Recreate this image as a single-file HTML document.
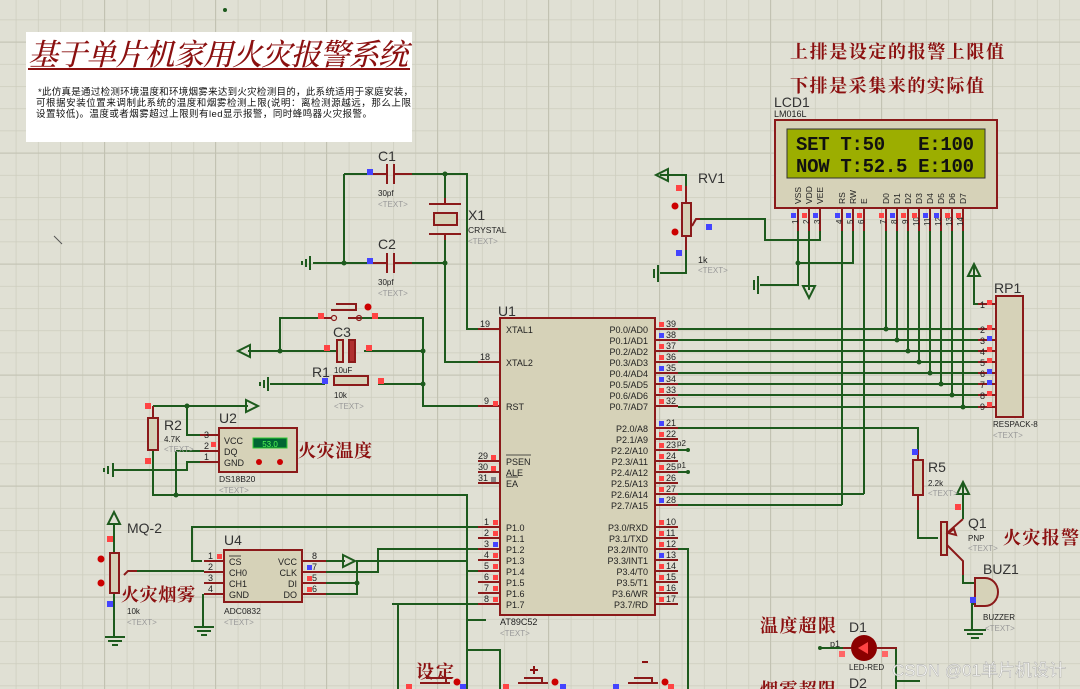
<!DOCTYPE html>
<html><head><meta charset="utf-8"><style>
html,body{margin:0;padding:0;background:#e0e0d4;}
svg{display:block;font-family:"Liberation Sans","Noto Sans CJK SC",sans-serif;}
.w{stroke:#1d5a1d;stroke-width:2;fill:none;}
.p{stroke:#8b1a1a;stroke-width:2;fill:none;}
.b{stroke:#8b1a1a;stroke-width:2;fill:#d6d2b8;}
.t{font-size:11px;fill:#222;}
.s{font-size:9px;fill:#222;}
.g{font-size:8px;fill:#999;}
.L{font-size:14px;fill:#333;}
.r{fill:#8b1010;font-family:"Liberation Serif","Noto Serif CJK SC",serif;font-size:18px;font-weight:bold;}
.n{fill:#1d5a1d;}
</style></head><body>
<svg width="1080" height="689" viewBox="0 0 1080 689" xmlns="http://www.w3.org/2000/svg">
<defs>
<pattern id="gm" x="15.7" y="19.5" width="22.2" height="22.2" patternUnits="userSpaceOnUse">
<path d="M0 0H22.2M0 0V22.2" stroke="#cdcdbe" stroke-width="1.5" fill="none"/></pattern>
<pattern id="gM" x="104" y="41.6" width="111" height="111" patternUnits="userSpaceOnUse">
<path d="M0 0H111M0 0V111" stroke="#c2c2b2" stroke-width="2" fill="none"/></pattern>
</defs>
<rect width="1080" height="689" fill="#e0e0d4"/>
<rect width="1080" height="689" fill="url(#gm)"/>
<rect width="1080" height="689" fill="url(#gM)"/>
<circle cx="225" cy="10" r="2" class="n"/>
<line x1="54" y1="236" x2="62" y2="244" stroke="#555" stroke-width="1"/>

<!-- title box -->
<rect x="26" y="32" width="386" height="110" fill="#fff"/>
<text x="28" y="65" style="font-family:'Liberation Serif','Noto Serif CJK SC',serif;font-size:30px;font-style:italic;fill:#8b1010;font-weight:500" textLength="380">基于单片机家用火灾报警系统</text>
<line x1="28" y1="69" x2="410" y2="69" stroke="#8b1010" stroke-width="2"/>
<text x="38" y="95" style="font-size:9.5px;fill:#111" textLength="375">*此仿真是通过检测环境温度和环境烟雾来达到火灾检测目的，此系统适用于家庭安装，</text>
<text x="36" y="106" style="font-size:9.5px;fill:#111" textLength="375">可根据安装位置来调制此系统的温度和烟雾检测上限(说明：离检测源越远，那么上限</text>
<text x="36" y="117" style="font-size:9.5px;fill:#111" textLength="336">设置较低)。温度或者烟雾超过上限则有led显示报警，同时蜂鸣器火灾报警。</text>

<text x="790" y="58" class="r" textLength="214">上排是设定的报警上限值</text>
<text x="790" y="92" class="r" textLength="194">下排是采集来的实际值</text>

<!-- LCD -->
<text x="774" y="107" class="L">LCD1</text>
<text x="774" y="117" class="s">LM016L</text>
<text x="774" y="127" class="g">&lt;TEXT&gt;</text>
<rect x="775" y="120" width="222" height="88" class="b"/>
<rect x="787" y="129" width="198" height="49" fill="#9cae00" stroke="#333" stroke-width="1"/>
<text x="796" y="150" style="font-family:'Liberation Mono',monospace;font-size:19px;fill:#111;font-weight:bold" textLength="178" xml:space="preserve">SET T:50   E:100</text>
<text x="796" y="172" style="font-family:'Liberation Mono',monospace;font-size:19px;fill:#111;font-weight:bold" textLength="178" xml:space="preserve">NOW T:52.5 E:100</text>
<g class="s" style="font-size:8.5px">
<text transform="translate(801,204) rotate(-90)">VSS</text><text transform="translate(812,204) rotate(-90)">VDD</text><text transform="translate(823,204) rotate(-90)">VEE</text>
<text transform="translate(845,204) rotate(-90)">RS</text><text transform="translate(856,204) rotate(-90)">RW</text><text transform="translate(867,204) rotate(-90)">E</text>
<text transform="translate(889,204) rotate(-90)">D0</text><text transform="translate(900,204) rotate(-90)">D1</text><text transform="translate(911,204) rotate(-90)">D2</text><text transform="translate(922,204) rotate(-90)">D3</text><text transform="translate(933,204) rotate(-90)">D4</text><text transform="translate(944,204) rotate(-90)">D5</text><text transform="translate(955,204) rotate(-90)">D6</text><text transform="translate(966,204) rotate(-90)">D7</text>
</g>
<path class="p" d="M798 208V231M809 208V231M820 208V231M842 208V231M853 208V231M864 208V231M886 208V231M897 208V231M908 208V231M919 208V231M930 208V231M941 208V231M952 208V231M963 208V231"/>
<g class="s" style="font-size:8px">
<text transform="translate(798,224) rotate(-90)">1</text><text transform="translate(809,224) rotate(-90)">2</text><text transform="translate(820,224) rotate(-90)">3</text><text transform="translate(842,224) rotate(-90)">4</text><text transform="translate(853,224) rotate(-90)">5</text><text transform="translate(864,224) rotate(-90)">6</text><text transform="translate(886,224) rotate(-90)">7</text><text transform="translate(897,224) rotate(-90)">8</text><text transform="translate(908,224) rotate(-90)">9</text><text transform="translate(919,226) rotate(-90)">10</text><text transform="translate(930,226) rotate(-90)">11</text><text transform="translate(941,226) rotate(-90)">12</text><text transform="translate(952,226) rotate(-90)">13</text><text transform="translate(963,226) rotate(-90)">14</text>
</g>
<g>
<rect x="791" y="213" width="5" height="5" fill="#44f"/><rect x="802" y="213" width="5" height="5" fill="#f44"/><rect x="813" y="213" width="5" height="5" fill="#44f"/>
<rect x="835" y="213" width="5" height="5" fill="#44f"/><rect x="846" y="213" width="5" height="5" fill="#44f"/><rect x="857" y="213" width="5" height="5" fill="#f44"/>
<rect x="879" y="213" width="5" height="5" fill="#f44"/><rect x="890" y="213" width="5" height="5" fill="#44f"/><rect x="901" y="213" width="5" height="5" fill="#f44"/><rect x="912" y="213" width="5" height="5" fill="#f44"/><rect x="923" y="213" width="5" height="5" fill="#44f"/><rect x="934" y="213" width="5" height="5" fill="#44f"/><rect x="945" y="213" width="5" height="5" fill="#f44"/><rect x="956" y="213" width="5" height="5" fill="#f44"/>
</g>
<!-- LCD wiring -->
<path class="w" d="M798 231V285H765M853 231V263H798M809 231V290M820 231V240H765V219H700"/>
<path class="w" d="M803 286L809 298L815 286Z"/>
<circle cx="798" cy="263" r="2.5" class="n"/>
<path class="w" d="M765 285H760M758 276V294M754 280V290"/>
<path class="w" d="M886 231V329M897 231V340M908 231V351M919 231V362M930 231V373M941 231V384M952 231V395M963 231V407M842 231V505M864 231V494"/>
<g class="n"><circle cx="886" cy="329" r="2.5"/><circle cx="897" cy="340" r="2.5"/><circle cx="908" cy="351" r="2.5"/><circle cx="919" cy="362" r="2.5"/><circle cx="930" cy="373" r="2.5"/><circle cx="941" cy="384" r="2.5"/><circle cx="952" cy="395" r="2.5"/><circle cx="963" cy="407" r="2.5"/></g>

<!-- RV1 -->
<text x="698" y="183" class="L">RV1</text>
<text x="698" y="263" class="s">1k</text><text x="698" y="273" class="g">&lt;TEXT&gt;</text>
<path class="w" d="M686 186V175H660M668 169L656 175L668 181Z"/>
<path class="p" d="M686 186V203M686 236V250"/>
<rect x="682" y="203" width="9" height="33" class="b"/>
<path class="p" d="M700 219H696L692 226"/>
<path class="w" d="M686 250V273H660M658 265V282M654 269V278"/>
<rect x="676" y="185" width="6" height="6" fill="#f44"/><rect x="676" y="250" width="6" height="6" fill="#44f"/><rect x="706" y="224" width="6" height="6" fill="#44f"/>
<circle cx="675" cy="206" r="3.5" fill="#c00"/><circle cx="675" cy="232" r="3.5" fill="#c00"/>

<!-- RP1 -->
<text x="994" y="293" class="L">RP1</text>
<rect x="996" y="296" width="27" height="121" class="b"/>
<text x="993" y="427" class="s" style="font-size:8px">RESPACK-8</text><text x="993" y="438" class="g">&lt;TEXT&gt;</text>
<path class="w" d="M978 304H974V265M968 276L974 264L980 276Z"/>
<path class="p" d="M978 304H996M978 329H996M978 340H996M978 351H996M978 362H996M978 373H996M978 384H996M978 395H996M978 407H996"/>
<g class="s"><text x="980" y="308">1</text><text x="980" y="333">2</text><text x="980" y="344">3</text><text x="980" y="355">4</text><text x="980" y="366">5</text><text x="980" y="377">6</text><text x="980" y="388">7</text><text x="980" y="399">8</text><text x="980" y="410">9</text></g>
<g><rect x="987" y="300" width="5" height="5" fill="#f44"/><rect x="987" y="325" width="5" height="5" fill="#f44"/><rect x="987" y="336" width="5" height="5" fill="#44f"/><rect x="987" y="347" width="5" height="5" fill="#f44"/><rect x="987" y="358" width="5" height="5" fill="#f44"/><rect x="987" y="369" width="5" height="5" fill="#44f"/><rect x="987" y="380" width="5" height="5" fill="#44f"/><rect x="987" y="391" width="5" height="5" fill="#f44"/><rect x="987" y="402" width="5" height="5" fill="#f44"/></g>
<!-- P0 bus -->
<path class="w" d="M678 329H978M678 340H978M678 351H978M678 362H978M678 373H978M678 384H978M678 395H978M678 407H978"/>

<!-- U1 -->
<text x="498" y="316" class="L">U1</text>
<rect x="500" y="318" width="155" height="297" class="b"/>
<text x="500" y="625" class="s">AT89C52</text><text x="500" y="636" class="g">&lt;TEXT&gt;</text>
<path class="p" d="M478 329H500M478 362H500M478 406H500M478 461H500M478 472H500M478 483H500M478 527H500M478 538H500M478 549H500M478 560H500M478 571H500M478 582H500M478 593H500M478 604H500"/>
<path class="p" d="M655 329H678M655 340H678M655 351H678M655 362H678M655 373H678M655 384H678M655 395H678M655 406H678M655 428H678M655 439H678M655 450H678M655 461H678M655 472H678M655 483H678M655 494H678M655 505H678M655 527H678M655 538H678M655 549H678M655 560H678M655 571H678M655 582H678M655 593H678M655 604H678"/>
<g class="s">
<text x="480" y="327">19</text><text x="480" y="360">18</text><text x="484" y="404">9</text><text x="478" y="459">29</text><text x="478" y="470">30</text><text x="478" y="481">31</text>
<text x="484" y="525">1</text><text x="484" y="536">2</text><text x="484" y="547">3</text><text x="484" y="558">4</text><text x="484" y="569">5</text><text x="484" y="580">6</text><text x="484" y="591">7</text><text x="484" y="602">8</text>
<text x="666" y="327">39</text><text x="666" y="338">38</text><text x="666" y="349">37</text><text x="666" y="360">36</text><text x="666" y="371">35</text><text x="666" y="382">34</text><text x="666" y="393">33</text><text x="666" y="404">32</text>
<text x="666" y="426">21</text><text x="666" y="437">22</text><text x="666" y="448">23</text><text x="666" y="459">24</text><text x="666" y="470">25</text><text x="666" y="481">26</text><text x="666" y="492">27</text><text x="666" y="503">28</text>
<text x="666" y="525">10</text><text x="666" y="536">11</text><text x="666" y="547">12</text><text x="666" y="558">13</text><text x="666" y="569">14</text><text x="666" y="580">15</text><text x="666" y="591">16</text><text x="666" y="602">17</text>
<text x="677" y="446" style="font-size:8px">p2</text><text x="677" y="468" style="font-size:8px">p1</text>
</g>
<g class="t" style="font-size:9px">
<text x="506" y="333">XTAL1</text><text x="506" y="366">XTAL2</text><text x="506" y="410">RST</text>
<text x="506" y="465">PSEN</text><text x="506" y="476">ALE</text><text x="506" y="487">EA</text>
<text x="506" y="531">P1.0</text><text x="506" y="542">P1.1</text><text x="506" y="553">P1.2</text><text x="506" y="564">P1.3</text><text x="506" y="575">P1.4</text><text x="506" y="586">P1.5</text><text x="506" y="597">P1.6</text><text x="506" y="608">P1.7</text>
</g>
<line x1="506" y1="455" x2="531" y2="455" stroke="#222" stroke-width="0.8"/><line x1="506" y1="477" x2="518" y2="477" stroke="#222" stroke-width="0.8"/>
<g class="t" style="font-size:9px" text-anchor="end">
<text x="648" y="333">P0.0/AD0</text><text x="648" y="344">P0.1/AD1</text><text x="648" y="355">P0.2/AD2</text><text x="648" y="366">P0.3/AD3</text><text x="648" y="377">P0.4/AD4</text><text x="648" y="388">P0.5/AD5</text><text x="648" y="399">P0.6/AD6</text><text x="648" y="410">P0.7/AD7</text>
<text x="648" y="432">P2.0/A8</text><text x="648" y="443">P2.1/A9</text><text x="648" y="454">P2.2/A10</text><text x="648" y="465">P2.3/A11</text><text x="648" y="476">P2.4/A12</text><text x="648" y="487">P2.5/A13</text><text x="648" y="498">P2.6/A14</text><text x="648" y="509">P2.7/A15</text>
<text x="648" y="531">P3.0/RXD</text><text x="648" y="542">P3.1/TXD</text><text x="648" y="553">P3.2/INT0</text><text x="648" y="564">P3.3/INT1</text><text x="648" y="575">P3.4/T0</text><text x="648" y="586">P3.5/T1</text><text x="648" y="597">P3.6/WR</text><text x="648" y="608">P3.7/RD</text>
</g>
<g>
<rect x="493" y="401" width="5" height="5" fill="#f44"/><rect x="491" y="455" width="5" height="5" fill="#f44"/><rect x="491" y="466" width="5" height="5" fill="#f44"/><rect x="491" y="477" width="5" height="5" fill="#888"/>
<rect x="493" y="520" width="5" height="5" fill="#f44"/><rect x="493" y="531" width="5" height="5" fill="#f44"/><rect x="493" y="542" width="5" height="5" fill="#44f"/><rect x="493" y="553" width="5" height="5" fill="#f44"/><rect x="493" y="564" width="5" height="5" fill="#f44"/><rect x="493" y="575" width="5" height="5" fill="#f44"/><rect x="493" y="586" width="5" height="5" fill="#f44"/><rect x="493" y="597" width="5" height="5" fill="#f44"/>
<rect x="659" y="322" width="5" height="5" fill="#f44"/><rect x="659" y="333" width="5" height="5" fill="#44f"/><rect x="659" y="344" width="5" height="5" fill="#f44"/><rect x="659" y="355" width="5" height="5" fill="#f44"/><rect x="659" y="366" width="5" height="5" fill="#44f"/><rect x="659" y="377" width="5" height="5" fill="#44f"/><rect x="659" y="388" width="5" height="5" fill="#f44"/><rect x="659" y="399" width="5" height="5" fill="#f44"/>
<rect x="659" y="421" width="5" height="5" fill="#44f"/><rect x="659" y="432" width="5" height="5" fill="#f44"/><rect x="659" y="443" width="5" height="5" fill="#f44"/><rect x="659" y="454" width="5" height="5" fill="#f44"/><rect x="659" y="465" width="5" height="5" fill="#f44"/><rect x="659" y="476" width="5" height="5" fill="#f44"/><rect x="659" y="487" width="5" height="5" fill="#f44"/><rect x="659" y="498" width="5" height="5" fill="#44f"/>
<rect x="659" y="520" width="5" height="5" fill="#f44"/><rect x="659" y="531" width="5" height="5" fill="#f44"/><rect x="659" y="542" width="5" height="5" fill="#f44"/><rect x="659" y="553" width="5" height="5" fill="#44f"/><rect x="659" y="564" width="5" height="5" fill="#f44"/><rect x="659" y="575" width="5" height="5" fill="#f44"/><rect x="659" y="586" width="5" height="5" fill="#f44"/><rect x="659" y="597" width="5" height="5" fill="#f44"/>
</g>
<path class="w" d="M678 450H688M678 472H688"/><circle cx="688" cy="450" r="2" class="n"/><circle cx="688" cy="472" r="2" class="n"/>
<!-- P2/P3 wires -->
<path class="w" d="M678 428H918V450M678 494H864M678 505H842M678 549H688V689"/>

<!-- crystal section -->
<text x="378" y="161" class="L">C1</text><text x="378" y="196" class="s" style="font-size:8px">30pf</text><text x="378" y="207" class="g">&lt;TEXT&gt;</text>
<text x="378" y="249" class="L">C2</text><text x="378" y="285" class="s" style="font-size:8px">30pf</text><text x="378" y="296" class="g">&lt;TEXT&gt;</text>
<path class="w" d="M344 174H369M412 174H467V329H478M344 174V263M313 263H369M412 263H445M445 174V198M445 240V362H478"/>
<path class="p" d="M369 174H387M394 174H412M387 164V184M394 164V184M369 263H387M394 263H412M387 253V273M394 253V273M445 198V204M445 234V240M429 204H461M429 234H461"/>
<rect x="434" y="213" width="23" height="12" class="b"/>
<path class="w" d="M310 256V270M306 259V267M302 261V265"/>
<g class="n"><circle cx="445" cy="174" r="2.5"/><circle cx="445" cy="263" r="2.5"/><circle cx="344" cy="263" r="2.5"/></g>
<rect x="367" y="169" width="6" height="6" fill="#44f"/><rect x="367" y="258" width="6" height="6" fill="#44f"/>
<text x="468" y="220" class="L">X1</text><text x="468" y="233" class="s" style="font-size:8.5px">CRYSTAL</text><text x="468" y="244" class="g">&lt;TEXT&gt;</text>

<!-- reset -->
<path class="w" d="M280 351V318H319M360 318H423V406H478M248 351H336M364 351H423M270 384H325M378 384H423"/>
<path class="w" d="M250 345L238 351L250 357Z"/>
<path class="p" d="M319 318H331M348 318H360M331 310H357M336 304H356V310"/>
<circle cx="334" cy="318" r="2.5" fill="none" stroke="#8b1a1a" stroke-width="1.2"/><circle cx="359" cy="318" r="2.5" fill="none" stroke="#8b1a1a" stroke-width="1.2"/>
<circle cx="368" cy="307" r="3.5" fill="#c00"/>
<rect x="337" y="340" width="6" height="22" class="b"/><rect x="349" y="340" width="6" height="22" fill="#b03030" stroke="#8b1a1a" stroke-width="2"/>
<rect x="334" y="376" width="34" height="9" class="b"/>
<path class="w" d="M268 377V391M264 380V388M260 382V386"/>
<g class="n"><circle cx="280" cy="351" r="2.5"/><circle cx="423" cy="351" r="2.5"/><circle cx="423" cy="384" r="2.5"/></g>
<rect x="318" y="313" width="6" height="6" fill="#f44"/><rect x="372" y="313" width="6" height="6" fill="#f44"/><rect x="324" y="345" width="6" height="6" fill="#f44"/><rect x="366" y="345" width="6" height="6" fill="#f44"/><rect x="322" y="378" width="6" height="6" fill="#44f"/><rect x="378" y="378" width="6" height="6" fill="#f44"/>
<text x="333" y="337" class="L">C3</text><text x="334" y="373" class="s" style="font-size:8px">10uF</text>
<text x="312" y="377" class="L">R1</text><text x="334" y="398" class="s" style="font-size:8px">10k</text><text x="334" y="409" class="g">&lt;TEXT&gt;</text>

<!-- DS18B20 -->
<path class="w" d="M153 406H248M246 400L258 406L246 412Z M187 406V435H200M153 450V495H467V527H478M176 451H200M176 451V495M200 462H187V470H113M113 463V477M108 466V474M104 468V472"/>
<path class="p" d="M153 406V418M153 450V440M200 435H219M200 451H219M200 462H219"/>
<rect x="148" y="418" width="10" height="32" class="b"/>
<rect x="219" y="428" width="78" height="44" class="b"/>
<rect x="253" y="438" width="34" height="10" fill="#063" stroke="#3c3" stroke-width="1"/>
<text x="270" y="447" style="font-size:8px;fill:#5f5" text-anchor="middle">53.0</text>
<text x="224" y="444" class="t" style="font-size:9px">VCC</text><text x="224" y="455" class="t" style="font-size:9px">DQ</text><text x="224" y="466" class="t" style="font-size:9px">GND</text>
<circle cx="259" cy="462" r="3" fill="#c00"/><circle cx="280" cy="462" r="3" fill="#c00"/>
<g class="s"><text x="204" y="438">3</text><text x="204" y="449">2</text><text x="204" y="460">1</text></g>
<g class="n"><circle cx="187" cy="406" r="2.5"/><circle cx="176" cy="495" r="2.5"/></g>
<rect x="145" y="403" width="6" height="6" fill="#f44"/><rect x="145" y="458" width="6" height="6" fill="#f44"/><rect x="211" y="442" width="5" height="5" fill="#f44"/>
<text x="164" y="430" class="L">R2</text><text x="164" y="442" class="s" style="font-size:8px">4.7K</text><text x="164" y="452" class="g">&lt;TEXT&gt;</text>
<text x="219" y="423" class="L">U2</text><text x="219" y="482" class="s" style="font-size:8.5px">DS18B20</text><text x="219" y="493" class="g">&lt;TEXT&gt;</text>
<text x="298" y="457" class="r" textLength="74">火灾温度</text>

<!-- MQ-2 -->
<path class="w" d="M114 523V553M108 524L114 512L120 524Z M114 593V637M105 637H125M108 641H122M112 645H118"/>
<rect x="110" y="553" width="9" height="40" class="b"/>
<path class="p" d="M137 571H128L124 575"/>
<circle cx="101" cy="559" r="3.5" fill="#c00"/><circle cx="101" cy="583" r="3.5" fill="#c00"/>
<rect x="107" y="536" width="6" height="6" fill="#f44"/><rect x="107" y="601" width="6" height="6" fill="#44f"/>
<text x="127" y="533" class="L">MQ-2</text><text x="127" y="614" class="s" style="font-size:8px">10k</text><text x="127" y="625" class="g">&lt;TEXT&gt;</text>
<text x="121" y="601" class="r" textLength="74">火灾烟雾</text>

<!-- ADC0832 -->
<path class="w" d="M137 571H204M202 561H192V527H467M203 594V627M194 627H214M197 631H211M201 635H207"/>
<path class="w" d="M326 561H345M343 555L355 561L343 567Z M326 572H378V549H478M326 583H357V561H467V571H478M326 594H357V583"/>
<circle cx="357" cy="583" r="2.5" class="n"/>
<path class="w" d="M392 604H478"/>
<path class="p" d="M204 561H224M204 572H224M204 583H224M204 594H224M302 561H326M302 572H326M302 583H326M302 594H326"/>
<rect x="224" y="550" width="78" height="52" class="b"/>
<g class="t" style="font-size:9px"><text x="229" y="565">CS</text><text x="229" y="576">CH0</text><text x="229" y="587">CH1</text><text x="229" y="598">GND</text></g>
<line x1="229" y1="556" x2="241" y2="556" stroke="#222" stroke-width="0.8"/>
<g class="t" style="font-size:9px" text-anchor="end"><text x="297" y="565">VCC</text><text x="297" y="576">CLK</text><text x="297" y="587">DI</text><text x="297" y="598">DO</text></g>
<g class="s"><text x="208" y="559">1</text><text x="208" y="570">2</text><text x="208" y="581">3</text><text x="208" y="592">4</text><text x="312" y="559">8</text><text x="312" y="581">5</text><text x="312" y="592">6</text><text x="312" y="570">7</text></g>
<rect x="217" y="554" width="5" height="5" fill="#f44"/><rect x="307" y="565" width="5" height="5" fill="#44f"/><rect x="307" y="576" width="5" height="5" fill="#f44"/><rect x="307" y="587" width="5" height="5" fill="#f44"/>
<text x="224" y="545" class="L">U4</text><text x="224" y="614" class="s" style="font-size:8.5px">ADC0832</text><text x="224" y="625" class="g">&lt;TEXT&gt;</text>

<!-- R5 / Q1 / buzzer -->
<path class="p" d="M918 450V460M918 495V510"/>
<rect x="913" y="460" width="10" height="35" class="b"/>
<path class="w" d="M918 510V538H938"/>
<rect x="941" y="522" width="6" height="33" class="b"/>
<path class="p" d="M947 533L963 519M947 545L963 561V575"/>
<path class="p" d="M954 529L948 533L956 535Z"/>
<path class="w" d="M963 519V483M957 494L963 482L969 494Z M963 575V583H975M975 604H972V630M964 630H986M967 634H983M971 638H979"/>
<path class="b" d="M975 578H985A13 14 0 0 1 985 606H975Z"/>
<rect x="912" y="449" width="6" height="6" fill="#44f"/><rect x="955" y="504" width="6" height="6" fill="#f44"/><rect x="970" y="597" width="6" height="6" fill="#44f"/>
<text x="928" y="472" class="L">R5</text><text x="928" y="486" class="s" style="font-size:8px">2.2k</text><text x="928" y="496" class="g">&lt;TEXT&gt;</text>
<text x="968" y="528" class="L">Q1</text><text x="968" y="541" class="s" style="font-size:8px">PNP</text><text x="968" y="551" class="g">&lt;TEXT&gt;</text>
<text x="1003" y="544" class="r" textLength="76">火灾报警</text>
<text x="983" y="574" class="L">BUZ1</text><text x="983" y="620" class="s" style="font-size:8px">BUZZER</text><text x="985" y="631" class="g">&lt;TEXT&gt;</text>

<!-- LED -->
<text x="760" y="632" class="r" textLength="76">温度超限</text>
<text x="760" y="696" class="r" textLength="76">烟雾超限</text>
<text x="849" y="632" class="L">D1</text><text x="849" y="688" class="L">D2</text>
<text x="830" y="647" class="s">p1</text>
<path class="w" d="M820 648H843M897 648H896V689M896 681H920"/>
<circle cx="820" cy="648" r="2" class="n"/>
<path class="p" d="M843 648H851M877 648H897"/>
<circle cx="864" cy="648" r="13" fill="#8b0000"/>
<path d="M858 648L868 642V654Z" fill="#f44"/>
<rect x="839" y="651" width="6" height="6" fill="#f66"/><rect x="882" y="651" width="6" height="6" fill="#f66"/>
<text x="849" y="670" class="s" style="font-size:8px">LED-RED</text>
<text x="892" y="676" style="font-size:17px;fill:#fff;opacity:0.85;stroke:#999;stroke-width:0.4">CSDN @01单片机设计</text>

<!-- bottom buttons -->
<path class="w" d="M400 604H398V689M467 495V689"/>
<text x="416" y="678" class="r" textLength="38">设定</text>
<path class="p" d="M420 683H450M426 678H446V683M518 683H548M524 678H542V683M628 683H658M634 678H652V683"/>
<path d="M530 670H538M534 666V674" stroke="#8b1010" stroke-width="2"/>
<path d="M642 662H648" stroke="#8b1010" stroke-width="2"/>
<circle cx="457" cy="682" r="3.5" fill="#c00"/><circle cx="555" cy="682" r="3.5" fill="#c00"/><circle cx="665" cy="682" r="3.5" fill="#c00"/>
<path class="w" d="M486 620H467M467 620V650H500V689"/>
<rect x="406" y="684" width="6" height="5" fill="#f44"/><rect x="460" y="684" width="6" height="5" fill="#44f"/><rect x="503" y="684" width="6" height="5" fill="#f44"/><rect x="560" y="684" width="6" height="5" fill="#44f"/><rect x="613" y="684" width="6" height="5" fill="#44f"/><rect x="668" y="684" width="6" height="5" fill="#f44"/>
</svg>
</body></html>
